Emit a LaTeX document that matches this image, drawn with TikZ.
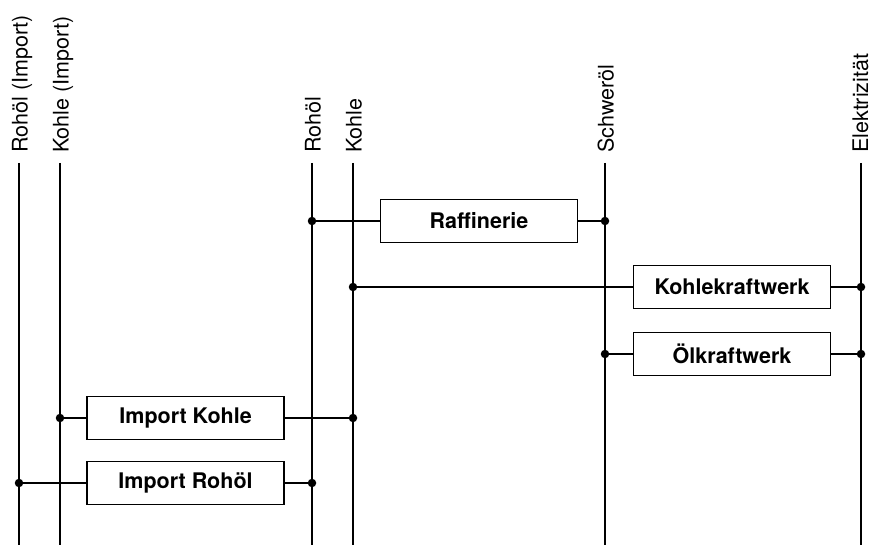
\documentclass[tikz,border=0pt]{standalone}
\usepackage{fontspec}
\setmainfont{TeX Gyre Heros}
\begin{document}
\begin{tikzpicture}[x=1pt,y=-1pt,
  bus/.style={line width=2pt},
  conn/.style={line width=1.3pt},
  proc/.style={draw,line width=1.8pt,minimum width=197pt,minimum height=43pt,inner sep=0pt,
    font=\bfseries\fontsize{21.5}{25}\selectfont},
  lbl/.style={rotate=90,anchor=base west,inner sep=0pt,font=\fontsize{21.5}{25}\selectfont},
  jdot/.style={circle,fill,inner sep=0pt,minimum size=8.5pt}]
\useasboundingbox (0,0) rectangle (871,545);
% buses
\foreach \n/\x in {ri/19,ki/60,ro/312,ko/353,sw/605,el/861}{
  \coordinate (\n T) at (\x,163);
  \coordinate (\n B) at (\x,545);
}
\draw[bus] (riT) -- (riB);
\draw[bus] (kiT) -- (kiB);
\draw[bus] (roT) -- (roB);
\draw[bus] (koT) -- (koB);
\draw[bus] (swT) -- (swB);
\draw[bus] (elT) -- (elB);
% labels
\node[lbl] (riL) at (27.5,153) {Rohöl (Import)};
\node[lbl] (kiL) at (68.5,153) {Kohle (Import)};
\node[lbl] (roL) at (320.5,153) {Rohöl};
\node[lbl] (koL) at (361.5,153) {Kohle};
\node[lbl] (swL) at (613.5,153) {Schweröl};
\node[lbl] (elL) at (868,153) {Elektrizität};
% processes
\node[proc] (raf) at (479,221) {Raffinerie};
\node[proc] (kkw) at (732,287) {Kohlekraftwerk};
\node[proc] (okw) at (732,354) {Ölkraftwerk};
\node[proc] (ikh) at (185.5,418) {Import Kohle};
\node[proc] (iro) at (185.5,483) {Import Rohöl};
% connections
\draw[conn] (raf.west -| roT) node[jdot] (d1) {} -- (raf.west);
\draw[conn] (raf.east) -- (raf.east -| swT) node[jdot] (d2) {};
\draw[conn] (kkw.west -| koT) node[jdot] (d3) {} -- (kkw.west);
\draw[conn] (kkw.east) -- (kkw.east -| elT) node[jdot] (d4) {};
\draw[conn] (okw.west -| swT) node[jdot] (d5) {} -- (okw.west);
\draw[conn] (okw.east) -- (okw.east -| elT) node[jdot] (d6) {};
\draw[conn] (ikh.west -| kiT) node[jdot] (d7) {} -- (ikh.west);
\draw[conn] (ikh.east) -- (ikh.east -| koT) node[jdot] (d8) {};
\draw[conn] (iro.west -| riT) node[jdot] (d9) {} -- (iro.west);
\draw[conn] (iro.east) -- (iro.east -| roT) node[jdot] (d10) {};
\end{tikzpicture}
\end{document}
